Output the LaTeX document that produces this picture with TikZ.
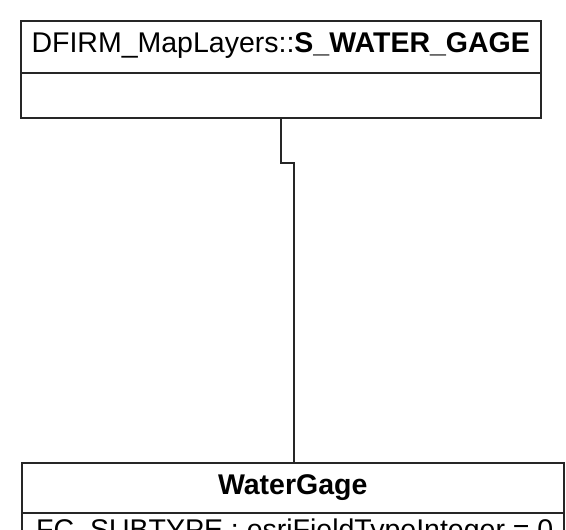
\documentclass[tikz,border=0pt]{standalone}
\usepackage{fontspec}
\setmainfont{Liberation Sans}
\begin{document}
\begin{tikzpicture}[x=1pt,y=-1pt,
  compart/.style={draw=black!85, line width=1.5pt, rectangle, inner sep=0pt, anchor=north west},
  umltext/.style={font=\fontsize{28.5}{31}\selectfont, inner sep=0pt},
  link/.style={draw=black!85, line width=1.5pt}]
\useasboundingbox (0,0) rectangle (566,530);
\clip (0,0) rectangle (566,530);
\node[compart, minimum width=520pt, minimum height=52pt] (tophead) at (20,20) {};
\node[compart, minimum width=520pt, minimum height=45pt] (topbody) at (20,72) {};
\node[umltext] (toptitle) at ([yshift=1pt]tophead.center) {DFIRM\_MapLayers::\textbf{S\_WATER\_GAGE}};
\node[compart, minimum width=542pt, minimum height=50pt] (bothead) at (21,462) {};
\node[compart, minimum width=542pt, minimum height=100pt] (botbody) at (21,512) {};
\node[umltext] (bottitle) at (bothead.center) {\textbf{WaterGage}};
\node[umltext, anchor=base west] (attr) at (36,539) {FC\_SUBTYPE : esriFieldTypeInteger = 0};
\coordinate (j1) at (281,163);
\coordinate (j2) at (294,163);
\draw[link] (topbody.south -| j1) -- (j1) -- (j2) -- (bothead.north -| j2);
\end{tikzpicture}
\end{document}
